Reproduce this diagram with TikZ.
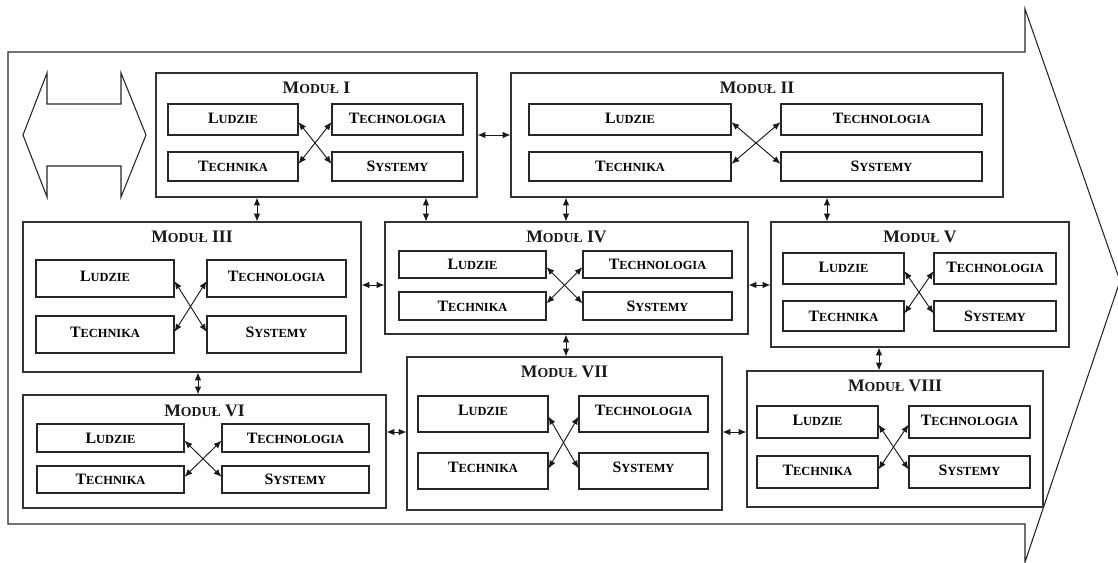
\documentclass[tikz,border=0pt]{standalone}
\usepackage{fontspec}
\setmainfont{Liberation Serif}
\usetikzlibrary{arrows.meta,fit,calc}
\newcommand\IT[2]{{\bfseries\fontsize{11.9pt}{12pt}\selectfont #1\fontsize{9.3pt}{10pt}\selectfont #2}}
\newcommand\MT[1]{{\bfseries\fontsize{13.2pt}{14pt}\selectfont M\fontsize{10.3pt}{11pt}\selectfont ODUŁ\fontsize{13.2pt}{14pt}\selectfont\ #1}}
% inner box: name, corners, text, vertical text shift
\newcommand\ibox[4]{\node[inbox,fit={#2},label={[inner sep=0pt,yshift=#4]center:#3}] (#1) {};}
\begin{document}
\begin{tikzpicture}[x=0.75pt,y=-0.75pt,
  frame/.style={draw=black!85,line width=0.8pt,line join=miter},
  modbox/.style={draw=black!80,line width=0.8pt,inner sep=0pt,fill=white},
  inbox/.style={draw=black!85,line width=0.8pt,inner sep=0pt},
  ttl/.style={inner sep=0pt,text=black!90},
  dar/.style={{Latex[length=5.8pt,width=4.8pt]}-{Latex[length=5.8pt,width=4.8pt]},line width=0.7pt,draw=black!90}]
\useasboundingbox (0,0) rectangle (1118,563);
% big arrow frame
\draw[frame] (8,52) -- (1025,52) -- (1025,9) -- (1120,281) -- (1025,562) -- (1025,524) -- (8,524) -- cycle;
% left double arrow
\draw[frame] (23,135) -- (47,73) -- (47,104) -- (121,104) -- (121,73) -- (146,135) -- (121,197) -- (121,166) -- (47,166) -- (47,197) -- cycle;

% Module I
\node[modbox,fit={(156,73)(477,197)}] (m1) {};
\node[ttl] (t1) at (316.5,88) {\MT{I}};
\ibox{m1L}{(168,104)(298,135)}{\IT{L}{UDZIE}}{1pt}
\ibox{m1Tg}{(332,104)(463,135)}{\IT{T}{ECHNOLOGIA}}{1pt}
\ibox{m1Tk}{(168,152)(298,181)}{\IT{T}{ECHNIKA}}{0pt}
\ibox{m1S}{(332,152)(463,181)}{\IT{S}{YSTEMY}}{0pt}
% Module II
\node[modbox,fit={(511,73)(1003,197)}] (m2) {};
\node[ttl] (t2) at (757,88) {\MT{II}};
\ibox{m2L}{(529,104)(731,135)}{\IT{L}{UDZIE}}{1pt}
\ibox{m2Tg}{(781,104)(982,135)}{\IT{T}{ECHNOLOGIA}}{1pt}
\ibox{m2Tk}{(529,152)(731,181)}{\IT{T}{ECHNIKA}}{0pt}
\ibox{m2S}{(781,152)(982,181)}{\IT{S}{YSTEMY}}{0pt}
% Module III
\node[modbox,fit={(23,222)(361,372)}] (m3) {};
\node[ttl] (t3) at (192,237) {\MT{III}};
\ibox{m3L}{(36,260)(174,297)}{\IT{L}{UDZIE}}{1.5pt}
\ibox{m3Tg}{(207,260)(346,297)}{\IT{T}{ECHNOLOGIA}}{1.5pt}
\ibox{m3Tk}{(36,316)(174,353)}{\IT{T}{ECHNIKA}}{1.5pt}
\ibox{m3S}{(207,316)(346,353)}{\IT{S}{YSTEMY}}{1.5pt}
% Module IV
\node[modbox,fit={(385,222)(748,334)}] (m4) {};
\node[ttl] (t4) at (566.5,237) {\MT{IV}};
\ibox{m4L}{(399,251)(546,278)}{\IT{L}{UDZIE}}{0pt}
\ibox{m4Tg}{(583,251)(732,278)}{\IT{T}{ECHNOLOGIA}}{0pt}
\ibox{m4Tk}{(399,292)(546,320)}{\IT{T}{ECHNIKA}}{0pt}
\ibox{m4S}{(583,292)(732,320)}{\IT{S}{YSTEMY}}{0pt}
% Module V
\node[modbox,fit={(771,222)(1069,347)}] (m5) {};
\node[ttl] (t5) at (920,237) {\MT{V}};
\ibox{m5L}{(783,253)(904,284)}{\IT{L}{UDZIE}}{1pt}
\ibox{m5Tg}{(934,253)(1056,284)}{\IT{T}{ECHNOLOGIA}}{1pt}
\ibox{m5Tk}{(783,301)(904,331)}{\IT{T}{ECHNIKA}}{0pt}
\ibox{m5S}{(934,301)(1056,331)}{\IT{S}{YSTEMY}}{0pt}
% Module VI
\node[modbox,fit={(23,395)(386,508)}] (m6) {};
\node[ttl] (t6) at (204.5,411) {\MT{VI}};
\ibox{m6L}{(37,424)(184,452)}{\IT{L}{UDZIE}}{0pt}
\ibox{m6Tg}{(222,424)(369,452)}{\IT{T}{ECHNOLOGIA}}{0pt}
\ibox{m6Tk}{(37,466)(184,493)}{\IT{T}{ECHNIKA}}{0pt}
\ibox{m6S}{(222,466)(369,493)}{\IT{S}{YSTEMY}}{0pt}
% Module VII
\node[modbox,fit={(407,357)(722,510)}] (m7) {};
\node[ttl] (t7) at (564.5,372) {\MT{VII}};
\ibox{m7L}{(418,396)(548,432)}{\IT{L}{UDZIE}}{3pt}
\ibox{m7Tg}{(579,396)(708,432)}{\IT{T}{ECHNOLOGIA}}{3pt}
\ibox{m7Tk}{(418,453)(548,489)}{\IT{T}{ECHNIKA}}{3pt}
\ibox{m7S}{(579,453)(708,489)}{\IT{S}{YSTEMY}}{3pt}
% Module VIII
\node[modbox,fit={(747,371)(1043,507)}] (m8) {};
\node[ttl] (t8) at (895,386) {\MT{VIII}};
\ibox{m8L}{(757,406)(878,438)}{\IT{L}{UDZIE}}{1pt}
\ibox{m8Tg}{(909,406)(1030,438)}{\IT{T}{ECHNOLOGIA}}{1pt}
\ibox{m8Tk}{(757,456)(878,488)}{\IT{T}{ECHNIKA}}{1pt}
\ibox{m8S}{(909,456)(1030,488)}{\IT{S}{YSTEMY}}{1pt}

% crossing arrows inside modules
\foreach \m in {m1,m2,m3,m4,m5,m6,m7,m8}{
  \draw[dar] ([yshift=-2pt]\m L.east) -- ([yshift=2pt]\m S.west);
  \draw[dar] ([yshift=2pt]\m Tk.east) -- ([yshift=-2pt]\m Tg.west);
}

% positions of connectors between modules
\coordinate (v1) at (257,0);
\coordinate (v2) at (426,0);
\coordinate (v3) at (566,0);
\coordinate (v4) at (827,0);
\coordinate (v6) at (198,0);
\coordinate (v7) at (879,0);
\coordinate (h1) at (0,135);
\coordinate (h2) at (0,285);
\coordinate (h3) at (0,432);

\draw[dar] (m1.east |- h1) -- (m2.west |- h1);
\draw[dar] (m1.south -| v1) -- (m3.north -| v1);
\draw[dar] (m1.south -| v2) -- (m4.north -| v2);
\draw[dar] (m2.south -| v3) -- (m4.north -| v3);
\draw[dar] (m2.south -| v4) -- (m5.north -| v4);
\draw[dar] (m3.east |- h2) -- (m4.west |- h2);
\draw[dar] (m4.east |- h2) -- (m5.west |- h2);
\draw[dar] (m3.south -| v6) -- (m6.north -| v6);
\draw[dar] (m4.south -| v3) -- (m7.north -| v3);
\draw[dar] (m5.south -| v7) -- (m8.north -| v7);
\draw[dar] (m6.east |- h3) -- (m7.west |- h3);
\draw[dar] (m7.east |- h3) -- (m8.west |- h3);
\end{tikzpicture}
\end{document}
